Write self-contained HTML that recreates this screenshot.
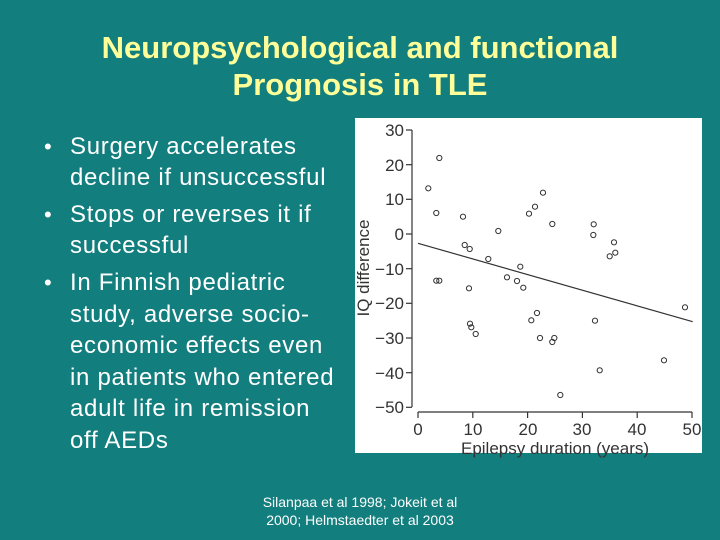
<!DOCTYPE html>
<html><head><style>
body{margin:0;width:720px;height:540px;background:#127e7e;position:relative;overflow:hidden;font-family:"Liberation Sans",sans-serif}
.t{position:absolute;left:0;width:720px;text-align:center;color:#ffff99;font-weight:bold;font-size:31px}
.b{position:absolute;left:70px;color:#fff;font-size:24px;letter-spacing:0.7px;white-space:nowrap}
.d{position:absolute;left:44px;color:#fff;font-size:22px}
.f{position:absolute;left:0;width:720px;text-align:center;color:#fff;font-size:14px}
</style></head><body>
<div class="t" style="top:30px">Neuropsychological and functional</div>
<div class="t" style="top:67px">Prognosis in TLE</div>
<div class="d" style="top:134px">•</div>
<div class="b" style="top:133px">Surgery accelerates</div>
<div class="b" style="top:164px">decline if unsuccessful</div>
<div class="d" style="top:202px">•</div>
<div class="b" style="top:201px">Stops or reverses it if</div>
<div class="b" style="top:232px">successful</div>
<div class="d" style="top:270px">•</div>
<div class="b" style="top:269px">In Finnish pediatric</div>
<div class="b" style="top:301px">study, adverse socio-</div>
<div class="b" style="top:332px">economic effects even</div>
<div class="b" style="top:364px">in patients who entered</div>
<div class="b" style="top:395px">adult life in remission</div>
<div class="b" style="top:427px">off AEDs</div>
<div class="f" style="top:494px">Silanpaa et al 1998; Jokeit et al</div>
<div class="f" style="top:512px">2000; Helmstaedter et al 2003</div>
<svg style="position:absolute;left:0;top:0" width="720" height="540">
<rect x="355" y="118" width="347" height="335" fill="#fff"/>
<g stroke="#333" stroke-width="1.2" fill="none">
<line x1="412" y1="130" x2="412" y2="407"/>
<line x1="418" y1="412" x2="692" y2="412"/>
<line x1="406" y1="130.0" x2="412" y2="130.0"/><line x1="406" y1="164.7" x2="412" y2="164.7"/><line x1="406" y1="199.3" x2="412" y2="199.3"/><line x1="406" y1="234.0" x2="412" y2="234.0"/><line x1="406" y1="268.7" x2="412" y2="268.7"/><line x1="406" y1="303.3" x2="412" y2="303.3"/><line x1="406" y1="338.0" x2="412" y2="338.0"/><line x1="406" y1="372.7" x2="412" y2="372.7"/><line x1="406" y1="407.3" x2="412" y2="407.3"/>
<line x1="418" y1="412" x2="418" y2="418"/><line x1="472.8" y1="412" x2="472.8" y2="418"/><line x1="527.6" y1="412" x2="527.6" y2="418"/><line x1="582.4" y1="412" x2="582.4" y2="418"/><line x1="637.2" y1="412" x2="637.2" y2="418"/><line x1="692" y1="412" x2="692" y2="418"/>
<line x1="418" y1="243.3" x2="692.7" y2="321.7"/>
</g>
<g fill="#333" font-size="17" text-anchor="end" font-family="Liberation Sans,sans-serif">
<text x="404" y="136">30</text><text x="404" y="171">20</text><text x="404" y="205">10</text><text x="404" y="240">0</text><text x="404" y="275">−10</text><text x="404" y="309">−20</text><text x="404" y="344">−30</text><text x="404" y="379">−40</text><text x="404" y="413">−50</text>
</g>
<g fill="#333" font-size="17" text-anchor="middle" font-family="Liberation Sans,sans-serif">
<text x="418" y="435">0</text><text x="473" y="435">10</text><text x="528" y="435">20</text><text x="582" y="435">30</text><text x="637" y="435">40</text><text x="692" y="435">50</text>
<text x="555" y="454">Epilepsy duration (years)</text>
<text transform="translate(369,268) rotate(-90)">IQ difference</text>
</g>
<g fill="none" stroke="#333" stroke-width="1">
<circle cx="428.3" cy="188.3" r="2.6"/><circle cx="439.3" cy="158" r="2.6"/><circle cx="436.3" cy="213" r="2.6"/><circle cx="436.3" cy="280.7" r="2.6"/><circle cx="439.3" cy="280.7" r="2.6"/><circle cx="463" cy="216.7" r="2.6"/><circle cx="464.7" cy="245" r="2.6"/><circle cx="469.7" cy="249" r="2.6"/><circle cx="469" cy="288.3" r="2.6"/><circle cx="470" cy="323.7" r="2.6"/><circle cx="471.3" cy="327.3" r="2.6"/><circle cx="475.7" cy="334" r="2.6"/><circle cx="488.3" cy="259" r="2.6"/><circle cx="498.3" cy="231" r="2.6"/><circle cx="507" cy="277.3" r="2.6"/><circle cx="517" cy="281" r="2.6"/><circle cx="520.3" cy="266.7" r="2.6"/><circle cx="523.3" cy="287.7" r="2.6"/><circle cx="529" cy="213.7" r="2.6"/><circle cx="535" cy="206.7" r="2.6"/><circle cx="543" cy="192.7" r="2.6"/><circle cx="531.3" cy="320.3" r="2.6"/><circle cx="537" cy="313" r="2.6"/><circle cx="540" cy="338" r="2.6"/><circle cx="552.3" cy="224" r="2.6"/><circle cx="552.3" cy="342" r="2.6"/><circle cx="554.3" cy="338" r="2.6"/><circle cx="560.3" cy="395" r="2.6"/><circle cx="593.7" cy="224.3" r="2.6"/><circle cx="593.3" cy="235" r="2.6"/><circle cx="595" cy="320.7" r="2.6"/><circle cx="599.7" cy="370.3" r="2.6"/><circle cx="614" cy="242.3" r="2.6"/><circle cx="615.3" cy="252.7" r="2.6"/><circle cx="609.7" cy="256.3" r="2.6"/><circle cx="664" cy="360.3" r="2.6"/><circle cx="685" cy="307.3" r="2.6"/>
</g>
</svg>
</body></html>
